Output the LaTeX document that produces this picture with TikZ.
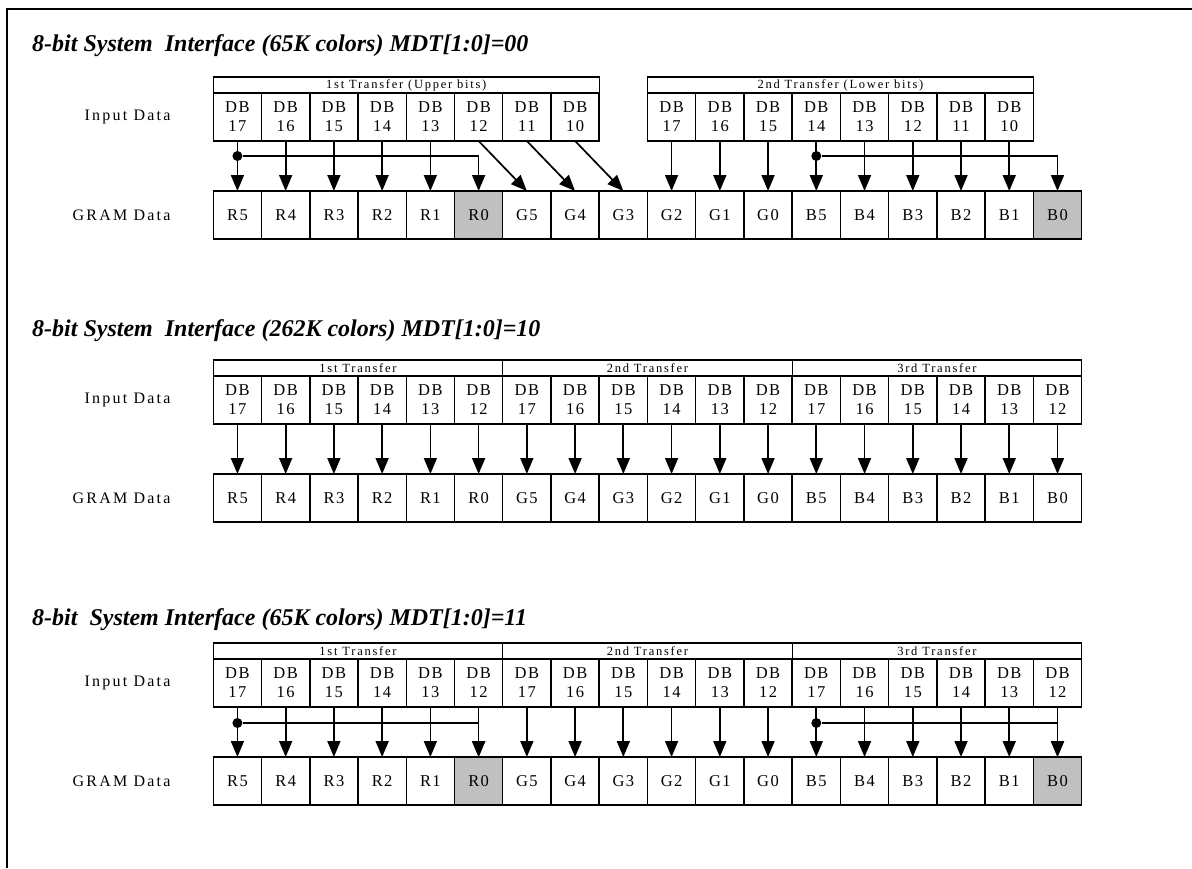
\documentclass[tikz,border=0pt]{standalone}
\usepackage{fontspec}
\setmainfont{Liberation Serif}
\newfontfamily\spacedfont[LetterSpace=9]{Liberation Serif}
\newfontfamily\widefont[LetterSpace=14]{Liberation Serif}
\usetikzlibrary{arrows.meta,positioning,calc}
\definecolor{ramgray}{RGB}{192,192,192}
\tikzset{
  dbarrow/.style={-{Triangle[length=16pt,width=13pt]}, line width=1.7pt},
  dbcell/.style={
    draw,
    line width=1.5pt,
    minimum width=48.24pt,
    minimum height=48pt,
    inner sep=0pt,
    outer sep=0pt,
    align=center,
    font=\spacedfont\fontsize{16.5}{19}\selectfont
  },
  gramcell/.style={dbcell},
  hdrbox/.style={
    draw,
    line width=1.3pt,
    minimum height=16pt,
    inner sep=0pt,
    outer sep=0pt,
    font=\widefont\fontsize{12.5}{13}\selectfont
  },
  rowlabel/.style={inner sep=0pt, font=\widefont\fontsize{16}{18}\selectfont},
  sectitle/.style={anchor=west, inner sep=0pt, font=\fontsize{24}{28}\selectfont\bfseries\itshape},
  joint/.style={circle, fill, inner sep=0pt, minimum size=10pt}
}
% cell grid: left edge and cell width
\newcommand{\xo}{213.3}
\newcommand{\cw}{48.24}
% #1 row name, #2 y, #3 fill of R0 and B0
\newcommand{\gramrow}[3]{%
  \foreach \t [count=\i from 0] in {R5,R4,R3,R2,R1,R0,G5,G4,G3,G2,G1,G0,B5,B4,B3,B2,B1,B0}{%
    \ifnum\i=5 \def\fc{#3}\else\ifnum\i=17 \def\fc{#3}\else\def\fc{white}\fi\fi
    \node[gramcell, fill=\fc] (#1-\i) at ({\xo+\cw*(\i+0.5)},#2) {\t};
  }%
}
% #1 row name, #2 y, #3 first cell, #4 bit numbers
\newcommand{\dbrow}[4]{%
  \foreach \n [count=\i from #3] in {#4}
    \node[dbcell] (#1-\i) at ({\xo+\cw*(\i+0.5)},#2) {DB\\\n};
}

\begin{document}
\begin{tikzpicture}[x=1pt, y=-1pt]
  \useasboundingbox (0,0) rectangle (1192,868);
  \draw[line width=2.5pt] (7,868) -- (7,9) -- (1192,9);

  % MDT = 00
  \node[sectitle] (t1) at (32,46) {8-bit System\ \ Interface (65K colors) MDT[1:0]=00};
  \dbrow{d1}{117}{0}{17,16,15,14,13,12,11,10}
  \dbrow{d1}{117}{9}{17,16,15,14,13,12,11,10}
  \gramrow{g1}{215}{ramgray}
  \node[hdrbox, minimum width=385.92pt] (h1a) at ($(d1-0.north west)!.5!(d1-7.north east)+(0,-8)$) {1st Transfer (Upper bits)};
  \node[hdrbox, minimum width=385.92pt] (h1b) at ($(d1-9.north west)!.5!(d1-16.north east)+(0,-8)$) {2nd Transfer (Lower bits)};
  \node[rowlabel, left=42.6pt of d1-0] (in1) {Input Data};
  \node[rowlabel, left=42.6pt of g1-0] (gr1) {GRAM Data};
  \foreach \i in {0,...,4,9,10,...,16}
    \draw[dbarrow] (d1-\i) -- (g1-\i);
  \foreach \i/\j in {5/6,6/7,7/8}
    \draw[dbarrow] (d1-\i.south) -- (g1-\j.north);
  \node[joint] (j1a) at ($(d1-0.south)+(0,15)$) {};
  \node[joint] (j1b) at ($(d1-12.south)+(0,15)$) {};
  \draw[dbarrow] (j1a) -| (g1-5);
  \draw[dbarrow] (j1b) -| (g1-17);

  % MDT = 10
  \node[sectitle] (t2) at (32,331) {8-bit System\ \ Interface (262K colors) MDT[1:0]=10};
  \dbrow{d2}{400}{0}{17,16,15,14,13,12,17,16,15,14,13,12,17,16,15,14,13,12}
  \gramrow{g2}{498}{white}
  \node[hdrbox, minimum width=289.44pt] (h2a) at ($(d2-0.north west)!.5!(d2-5.north east)+(0,-8)$) {1st Transfer};
  \node[hdrbox, minimum width=289.44pt] (h2b) at ($(d2-6.north west)!.5!(d2-11.north east)+(0,-8)$) {2nd Transfer};
  \node[hdrbox, minimum width=289.44pt] (h2c) at ($(d2-12.north west)!.5!(d2-17.north east)+(0,-8)$) {3rd Transfer};
  \node[rowlabel, left=42.6pt of d2-0] (in2) {Input Data};
  \node[rowlabel, left=42.6pt of g2-0] (gr2) {GRAM Data};
  \foreach \i in {0,...,17}
    \draw[dbarrow] (d2-\i) -- (g2-\i);

  % MDT = 11
  \node[sectitle] (t3) at (32,620) {8-bit\ \ System Interface (65K colors) MDT[1:0]=11};
  \dbrow{d3}{683}{0}{17,16,15,14,13,12,17,16,15,14,13,12,17,16,15,14,13,12}
  \gramrow{g3}{781}{ramgray}
  \node[hdrbox, minimum width=289.44pt] (h3a) at ($(d3-0.north west)!.5!(d3-5.north east)+(0,-8)$) {1st Transfer};
  \node[hdrbox, minimum width=289.44pt] (h3b) at ($(d3-6.north west)!.5!(d3-11.north east)+(0,-8)$) {2nd Transfer};
  \node[hdrbox, minimum width=289.44pt] (h3c) at ($(d3-12.north west)!.5!(d3-17.north east)+(0,-8)$) {3rd Transfer};
  \node[rowlabel, left=42.6pt of d3-0] (in3) {Input Data};
  \node[rowlabel, left=42.6pt of g3-0] (gr3) {GRAM Data};
  \foreach \i in {0,...,17}
    \draw[dbarrow] (d3-\i) -- (g3-\i);
  \node[joint] (j3a) at ($(d3-0.south)+(0,16)$) {};
  \node[joint] (j3b) at ($(d3-12.south)+(0,16)$) {};
  \draw[dbarrow] (j3a) -| (g3-5);
  \draw[dbarrow] (j3b) -| (g3-17);
\end{tikzpicture}
\end{document}
